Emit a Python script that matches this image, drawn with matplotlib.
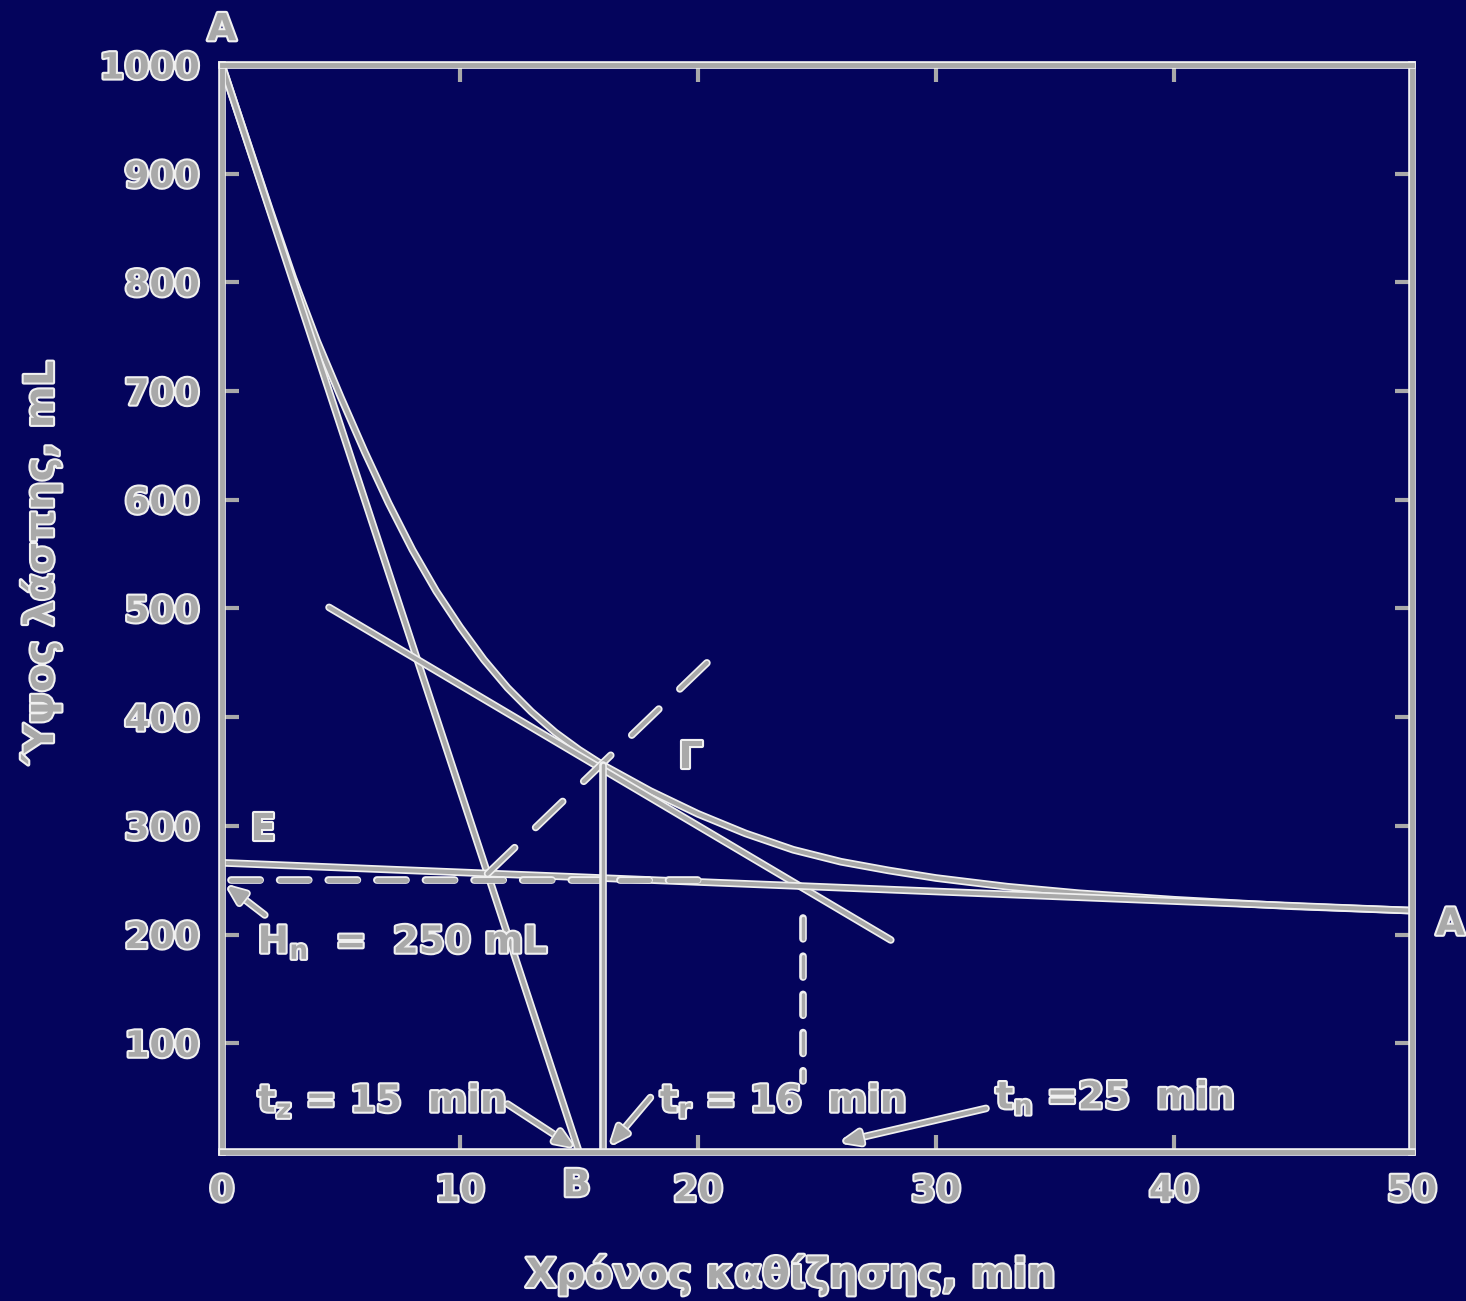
import numpy as np
import matplotlib.pyplot as plt
import matplotlib.patheffects as pe

plt.rcParams['font.family'] = ['DejaVu Sans']
plt.rcParams['font.weight'] = 'bold'
plt.rcParams['mathtext.fontset'] = 'dejavusans'

# Καμπύλη καθίζησης: χρόνος (min) - ύψος λάσπης (mL)
t_curve = [0, 1, 2, 3, 4, 5, 6, 7, 8, 9, 10, 11, 12, 13, 14, 15, 16,
           18, 20, 22, 24, 26, 28, 30, 33, 36, 40, 45, 50]
h_curve = [1000, 934, 868, 804, 746, 694, 644, 597, 554, 516, 483, 453, 427,
           405, 386, 370, 356, 332, 311, 293, 278, 267, 259, 252, 244, 238,
           232, 226, 222]

# εφαπτόμενες
tan1_t = [0, 15]
tan1_h = [1000, 0]
tan2_t = [4.5, 28.1]
tan2_h = [501, 195]
tanE_t = [0, 50]
tanE_h = [266, 222]

# διχοτόμος και βοηθητικές γραμμές
bis_t = [11.16, 20.9]
bis_h = [256, 461]
h_n = 250
t_z, t_r, t_n = 15, 16, 25
t_n_line = 24.4
h_r = 356

bg = '#04045c'
fg = '#a9a9a9'
edge = '#f0f0f0'

line_fx = [pe.Stroke(linewidth=5.5, foreground=edge), pe.Normal()]
text_fx = [pe.withStroke(linewidth=3, foreground=edge)]

fig = plt.figure(figsize=(14.66, 13.01), dpi=100, facecolor=bg)
ax = fig.add_axes([0.1514, 0.1146, 0.8118, 0.8354])
ax.set_facecolor(bg)


def draw(x, y, **kw):
    kw.setdefault('lw', 3)
    ax.plot(x, y, color=fg, path_effects=line_fx, solid_capstyle='round',
            dash_capstyle='round', **kw)


draw(t_curve, h_curve)
draw(tan1_t, tan1_h)
draw(tan2_t, tan2_h)
draw(tanE_t, tanE_h)
draw([0.4, 20], [h_n, h_n], ls=(0, (6, 4)), lw=3.5)
draw(bis_t, bis_h, ls=(0, (9, 7)))
draw([t_r, t_r], [0, h_r], lw=2.5)
draw([t_n_line, t_n_line], [215, 65], ls=(0, (6, 5)), lw=2.5)

ax.set_xlim(0, 50)
ax.set_ylim(0, 1000)
ax.set_xticks(np.arange(0, 51, 10))
ax.set_yticks(np.arange(100, 1001, 100))
ax.tick_params(direction='in', length=12, width=3, top=True, right=True,
               colors=fg, labelsize=26, pad=16)
for lab in ax.get_xticklabels() + ax.get_yticklabels():
    lab.set_fontweight('bold')
    lab.set_path_effects(text_fx)
for sp in ax.spines.values():
    sp.set_color(fg)
    sp.set_linewidth(3.5)
    sp.set_path_effects(line_fx)

lkw = dict(fontsize=29, color=fg, fontweight='bold', path_effects=text_fx)
fig.text(0.539, 0.02, 'Χρόνος καθίζησης, min', ha='center', va='center', **lkw)
fig.text(0.028, 0.568, 'Ύψος λάσπης, mL', ha='center', va='center',
         rotation=90, **lkw)

tkw = dict(fontsize=27, color=fg, fontweight='bold', path_effects=text_fx)
ax.text(0, 1032, 'A', ha='center', va='center', clip_on=False, **tkw)
ax.text(51.0, 209, 'A', ha='left', va='center', clip_on=False, **tkw)
ax.text(14.9, -15, 'B', ha='center', va='top', clip_on=False, **tkw)
ax.text(1.2, 296, 'E', ha='left', va='center', **tkw)
ax.text(19.2, 362, 'Γ', ha='left', va='center', **tkw)

akw = dict(arrowstyle='-|>,head_length=1.1,head_width=0.45', color=fg, lw=3,
           path_effects=line_fx, shrinkA=0, shrinkB=0)

ax.text(1.5, 193, r'H$_\mathbf{n}$  =  250 mL', ha='left', va='center', **tkw)
ax.annotate('', xy=(0.2, 245), xytext=(1.8, 218), arrowprops=akw)

ax.text(1.5, 47, r't$_\mathbf{z}$ = %d  min' % t_z, ha='left', va='center', **tkw)
ax.annotate('', xy=(14.8, 4), xytext=(12.0, 44), arrowprops=akw)

ax.text(18.4, 47, r't$_\mathbf{r}$ = %d  min' % t_r, ha='left', va='center', **tkw)
ax.annotate('', xy=(16.3, 6), xytext=(18.0, 50), arrowprops=akw)

ax.text(32.5, 50, r't$_\mathbf{n}$ =%d  min' % t_n, ha='left', va='center', **tkw)
ax.annotate('', xy=(26.0, 9), xytext=(32.1, 40), arrowprops=akw)

fig.savefig('out.png', dpi=100, facecolor=bg)
